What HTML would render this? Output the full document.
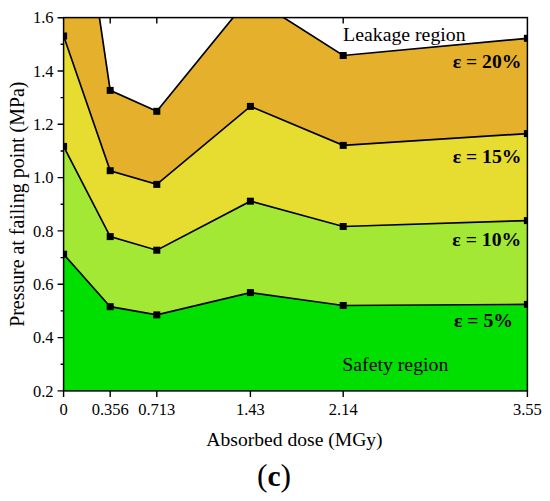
<!DOCTYPE html>
<html><head><meta charset="utf-8"><style>
html,body{margin:0;padding:0;background:#fff;width:550px;height:501px;overflow:hidden}
svg{display:block}
text{font-family:"Liberation Serif",serif;fill:#000}
.tl{font-size:16.5px}
.at{font-size:19.6px}.yt{font-size:19.9px}
.an{font-size:19.8px}
.eb{font-size:19.7px;font-weight:bold}
.cc{font-size:31.5px}
</style></head><body>
<svg width="550" height="501" viewBox="0 0 550 501">
<clipPath id="c"><rect x="63.6" y="17.6" width="463.79999999999995" height="373.29999999999995"/></clipPath>
<path d="M110.2,17.6V23.6M156.8,17.6V23.6M250.4,17.6V23.6M343.2,17.6V23.6" stroke="#000" stroke-width="1.4" fill="none"/>
<g clip-path="url(#c)">
<polygon fill="#00df00" points="63.6,254.2 110.2,306.7 156.8,314.9 250.4,292.6 343.2,305.5 527.4,304.4 527.4,390.9 343.2,390.9 250.4,390.9 156.8,390.9 110.2,390.9 63.6,390.9"/>
<polygon fill="#a3e835" points="63.6,146.4 110.2,236.6 156.8,250.2 250.4,201.2 343.2,226.5 527.4,220.6 527.4,304.4 343.2,305.5 250.4,292.6 156.8,314.9 110.2,306.7 63.6,254.2"/>
<polygon fill="#e6dd30" points="63.6,36.0 110.2,170.7 156.8,184.4 250.4,106.4 343.2,145.4 527.4,133.6 527.4,220.6 343.2,226.5 250.4,201.2 156.8,250.2 110.2,236.6 63.6,146.4"/>
<polygon fill="#e5b02c" points="63.6,-225.0 110.2,90.4 156.8,111.3 250.4,-3.6 343.2,55.5 527.4,38.3 527.4,133.6 343.2,145.4 250.4,106.4 156.8,184.4 110.2,170.7 63.6,36.0"/>
<polyline fill="none" stroke="#000" stroke-width="1.7" stroke-linejoin="miter" points="63.6,254.2 110.2,306.7 156.8,314.9 250.4,292.6 343.2,305.5 527.4,304.4"/>
<polyline fill="none" stroke="#000" stroke-width="1.7" stroke-linejoin="miter" points="63.6,146.4 110.2,236.6 156.8,250.2 250.4,201.2 343.2,226.5 527.4,220.6"/>
<polyline fill="none" stroke="#000" stroke-width="1.7" stroke-linejoin="miter" points="63.6,36.0 110.2,170.7 156.8,184.4 250.4,106.4 343.2,145.4 527.4,133.6"/>
<polyline fill="none" stroke="#000" stroke-width="1.7" stroke-linejoin="miter" points="63.6,-225.0 110.2,90.4 156.8,111.3 250.4,-3.6 343.2,55.5 527.4,38.3"/>
<rect x="60.1" y="250.7" width="7.0" height="7.0" fill="#000"/>
<rect x="106.7" y="303.2" width="7.0" height="7.0" fill="#000"/>
<rect x="153.3" y="311.4" width="7.0" height="7.0" fill="#000"/>
<rect x="246.9" y="289.1" width="7.0" height="7.0" fill="#000"/>
<rect x="339.7" y="302.0" width="7.0" height="7.0" fill="#000"/>
<rect x="523.9" y="300.9" width="7.0" height="7.0" fill="#000"/>
<rect x="60.1" y="142.9" width="7.0" height="7.0" fill="#000"/>
<rect x="106.7" y="233.1" width="7.0" height="7.0" fill="#000"/>
<rect x="153.3" y="246.7" width="7.0" height="7.0" fill="#000"/>
<rect x="246.9" y="197.7" width="7.0" height="7.0" fill="#000"/>
<rect x="339.7" y="223.0" width="7.0" height="7.0" fill="#000"/>
<rect x="523.9" y="217.1" width="7.0" height="7.0" fill="#000"/>
<rect x="60.1" y="32.5" width="7.0" height="7.0" fill="#000"/>
<rect x="106.7" y="167.2" width="7.0" height="7.0" fill="#000"/>
<rect x="153.3" y="180.9" width="7.0" height="7.0" fill="#000"/>
<rect x="246.9" y="102.9" width="7.0" height="7.0" fill="#000"/>
<rect x="339.7" y="141.9" width="7.0" height="7.0" fill="#000"/>
<rect x="523.9" y="130.1" width="7.0" height="7.0" fill="#000"/>
<rect x="60.1" y="-228.5" width="7.0" height="7.0" fill="#000"/>
<rect x="106.7" y="86.9" width="7.0" height="7.0" fill="#000"/>
<rect x="153.3" y="107.8" width="7.0" height="7.0" fill="#000"/>
<rect x="246.9" y="-7.1" width="7.0" height="7.0" fill="#000"/>
<rect x="339.7" y="52.0" width="7.0" height="7.0" fill="#000"/>
<rect x="523.9" y="34.8" width="7.0" height="7.0" fill="#000"/>
</g>
<rect x="63.6" y="17.6" width="463.79999999999995" height="373.29999999999995" fill="none" stroke="#000" stroke-width="1.5"/>
<path d="M57.6,390.9H63.6M60.6,364.2H63.6M57.6,337.6H63.6M60.6,310.9H63.6M57.6,284.3H63.6M60.6,257.6H63.6M57.6,230.9H63.6M60.6,204.3H63.6M57.6,177.6H63.6M60.6,151.0H63.6M57.6,124.3H63.6M60.6,97.6H63.6M57.6,71.0H63.6M60.6,44.3H63.6M57.6,17.7H63.6M110.2,390.9V396.9M156.8,390.9V396.9M250.4,390.9V396.9M343.2,390.9V396.9M63.6,390.9V396.9M527.4,390.9V396.9" stroke="#000" stroke-width="1.4" fill="none"/>
<text class="tl" x="53.5" y="396.5" text-anchor="end">0.2</text>
<text class="tl" x="53.5" y="343.2" text-anchor="end">0.4</text>
<text class="tl" x="53.5" y="289.9" text-anchor="end">0.6</text>
<text class="tl" x="53.5" y="236.5" text-anchor="end">0.8</text>
<text class="tl" x="53.5" y="183.2" text-anchor="end">1.0</text>
<text class="tl" x="53.5" y="129.9" text-anchor="end">1.2</text>
<text class="tl" x="53.5" y="76.6" text-anchor="end">1.4</text>
<text class="tl" x="53.5" y="23.3" text-anchor="end">1.6</text>
<text class="tl" x="63.6" y="414.5" text-anchor="middle">0</text>
<text class="tl" x="110.2" y="414.5" text-anchor="middle">0.356</text>
<text class="tl" x="156.8" y="414.5" text-anchor="middle">0.713</text>
<text class="tl" x="250.4" y="414.5" text-anchor="middle">1.43</text>
<text class="tl" x="343.2" y="414.5" text-anchor="middle">2.14</text>
<text class="tl" x="527.4" y="414.5" text-anchor="middle">3.55</text>
<text class="at" x="294.5" y="446" text-anchor="middle">Absorbed dose (MGy)</text>
<text class="yt" transform="translate(24.3,204.2) rotate(-90)" text-anchor="middle">Pressure at failing point (MPa)</text>
<text class="an" x="343.1" y="40.9">Leakage region</text>
<text class="an" x="342.3" y="370.5">Safety region</text>
<text class="eb" x="521.5" y="67.8" text-anchor="end">ε = 20%</text>
<text class="eb" x="521.5" y="163.1" text-anchor="end">ε = 15%</text>
<text class="eb" x="521.2" y="246.3" text-anchor="end">ε = 10%</text>
<text class="eb" x="513.0" y="326.9" text-anchor="end">ε = 5%</text>
<text class="cc" x="274" y="486" text-anchor="middle">(<tspan font-weight="bold" font-size="29.5px">c</tspan>)</text>
</svg>
</body></html>
